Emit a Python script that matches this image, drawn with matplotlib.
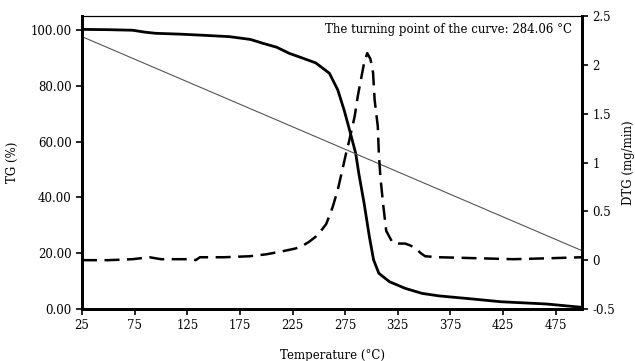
import numpy as np
import matplotlib.pyplot as plt

# TG curve (left axis, %)
tg_temp = [25, 50, 73, 85, 95, 118, 140, 165, 185, 197, 210, 222, 231, 247, 260,
           268, 274, 280, 285, 288, 293, 298, 302, 307, 317, 332, 348, 364, 390,
           423, 466, 500]
tg_val = [100.2, 100.1, 99.9, 99.2, 98.8, 98.5, 98.1, 97.6, 96.6, 95.2, 93.8, 91.6,
          90.4, 88.2, 84.5, 78.5, 71.3, 63.0, 55.8, 48.5, 37.9, 25.9, 17.6, 12.8,
          9.8, 7.4, 5.6, 4.7, 3.8, 2.6, 1.8, 0.6]

# DTG curve (right axis, mg/min)
dtg_temp = [25, 50, 73, 89, 100, 130, 133, 137, 160, 184, 200, 215, 228, 235, 241,
            247, 252, 257, 263, 268, 272, 276, 279, 284, 287, 290, 293, 296, 299,
            301.5, 303, 306, 307, 308.5, 311, 314, 320, 326, 332, 337, 342, 347,
            351, 364, 400, 435, 470, 500]
dtg_val = [0.0, 0.0, 0.01, 0.03, 0.01, 0.01, 0.0, 0.03, 0.03, 0.04, 0.06, 0.09,
           0.12, 0.15, 0.19, 0.24, 0.30, 0.37, 0.54, 0.72, 0.91, 1.10, 1.23, 1.47,
           1.68, 1.85, 2.02, 2.12, 2.06, 1.92, 1.64, 1.37, 1.09, 0.85, 0.58, 0.30,
           0.18, 0.17, 0.17, 0.15, 0.12, 0.07, 0.04, 0.03, 0.02, 0.01, 0.02, 0.03]

# thin straight reference line (left axis)
ref_temp = [25, 500]
ref_val = [97.6, 20.9]

xticks = [25, 75, 125, 175, 225, 275, 325, 375, 425, 475]
tg_ticks = [0, 20, 40, 60, 80, 100]
dtg_ticks = [-0.5, 0, 0.5, 1, 1.5, 2, 2.5]

plt.rcParams['font.family'] = ['DejaVu Serif']
plt.rcParams['font.size'] = 8.5

fig = plt.figure(figsize=(6.35, 3.61), dpi=100)
ax = fig.add_axes([82 / 635, 1 - 309 / 361, 500 / 635, 293 / 361])

ax.plot(tg_temp, tg_val, color='black', lw=2)
ax.plot(ref_temp, ref_val, color='#555555', lw=0.8)
ax.set_xlim(25, 500)
ax.set_ylim(0, 105)
ax.set_xticks(xticks)
ax.set_yticks(tg_ticks)
ax.set_yticklabels([f'{v:.2f}' for v in tg_ticks])
ax.set_xlabel('Temperature (°C)', labelpad=12)
ax.set_ylabel('TG (%)', labelpad=8)

ax2 = ax.twinx()
ax2.plot(dtg_temp, dtg_val, color='black', lw=1.8, dashes=(6, 3))
ax2.set_ylim(-0.5, 2.5)
ax2.set_yticks(dtg_ticks)
ax2.set_yticklabels(['-0.5', '0', '0.5', '1', '1.5', '2', '2.5'])
ax2.set_ylabel('DTG (mg/min)', labelpad=5)

for a in (ax, ax2):
    a.tick_params(direction='out', length=4, width=1.2, colors='black')
    a.spines['left'].set_linewidth(2)
    a.spines['bottom'].set_linewidth(2)
    a.spines['right'].set_linewidth(2)
    a.spines['top'].set_linewidth(0.8)

ax.text(0.98, 0.975, 'The turning point of the curve: 284.06 °C',
        transform=ax.transAxes, ha='right', va='top')

fig.savefig('out.png', dpi=100)
